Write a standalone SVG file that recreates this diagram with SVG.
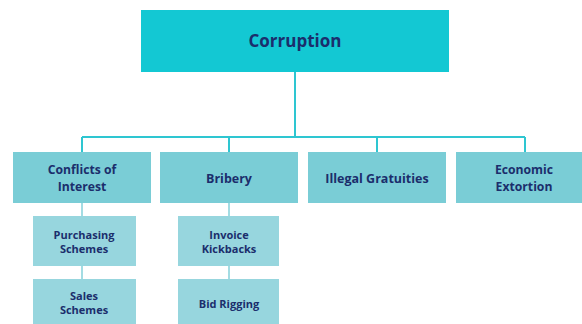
<svg xmlns="http://www.w3.org/2000/svg" width="582" height="324" viewBox="0 0 582 324">
  <style>
    .t { font-family: "Open Sans", Lato, "Liberation Sans", sans-serif; font-weight: 700; fill: #1B2E6C; text-anchor: middle; }
    .top { fill: #13C8D3; }
    .l2 { fill: #7ACDD6; }
    .l3 { fill: #97D6DE; }
    .c1 { stroke: #2EC6D1; stroke-width: 2; fill: none; }
    .c2 { stroke: #A3DCE3; stroke-width: 2; fill: none; }
  </style>
  <rect width="582" height="324" fill="#FFFFFF"/>

  <!-- tree links: trunk, bus and drops, then the light sub-links -->
  <g id="connectors">
    <path class="c1" d="M295 72 V137 M82 137 H525 M82 137 V152 M229 137 V152 M377 137 V152 M525 137 V152"/>
    <path class="c2" d="M82 203 V216 M82 266 V279 M229 203 V216 M229 266 V279"/>
  </g>

  <g id="corruption">
    <rect class="top" x="141" y="10" width="308" height="62"/>
    <text class="t" x="295" y="47" font-size="17">Corruption</text>
  </g>

  <g id="conflicts">
    <rect class="l2" x="13" y="152" width="138" height="51"/>
    <text class="t" x="82" y="174" font-size="12.2">Conflicts of</text>
    <text class="t" x="82" y="191" font-size="12.2">Interest</text>
  </g>
  <g id="bribery">
    <rect class="l2" x="160" y="152" width="138" height="51"/>
    <text class="t" x="229" y="183" font-size="12.5">Bribery</text>
  </g>
  <g id="gratuities">
    <rect class="l2" x="308" y="152" width="138" height="51"/>
    <text class="t" x="377" y="183" font-size="12.5">Illegal Gratuities</text>
  </g>
  <g id="extortion">
    <rect class="l2" x="456" y="152" width="138" height="51"/>
    <text class="t" x="524" y="174" font-size="12.2">Economic</text>
    <text class="t" x="524" y="191" font-size="12.2">Extortion</text>
  </g>

  <g id="purchasing">
    <rect class="l3" x="33" y="216" width="103" height="50"/>
    <text class="t" x="84" y="239" font-size="11">Purchasing</text>
    <text class="t" x="84" y="253" font-size="11">Schemes</text>
  </g>
  <g id="sales">
    <rect class="l3" x="33" y="279" width="103" height="50"/>
    <text class="t" x="84" y="300" font-size="11">Sales</text>
    <text class="t" x="84" y="314" font-size="11">Schemes</text>
  </g>
  <g id="kickbacks">
    <rect class="l3" x="178" y="216" width="101" height="50"/>
    <text class="t" x="229" y="239" font-size="11">Invoice</text>
    <text class="t" x="229" y="253" font-size="11">Kickbacks</text>
  </g>
  <g id="bidrigging">
    <rect class="l3" x="178" y="279" width="101" height="50"/>
    <text class="t" x="229" y="308" font-size="11">Bid Rigging</text>
  </g>
</svg>
